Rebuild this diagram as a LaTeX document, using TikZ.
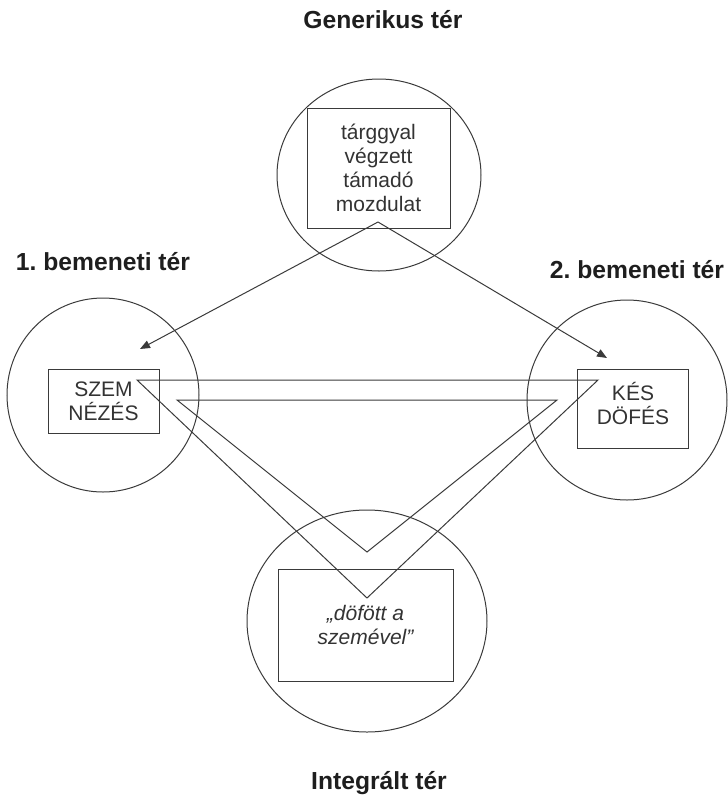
\documentclass[tikz,border=0pt]{standalone}
\usepackage{fontspec}
\setmainfont{Liberation Sans}
\usetikzlibrary{shapes.geometric,arrows.meta}
\definecolor{linec}{HTML}{3A3A3A}
\definecolor{textc}{HTML}{1E1E1E}
\definecolor{boxtextc}{HTML}{333333}
\frenchspacing
\begin{document}
\begin{tikzpicture}[x=0.75pt,y=-0.75pt,
  ln/.style={draw=linec,line width=0.75pt},
  space/.style={ln,ellipse,inner sep=0pt},
  box/.style={ln,rectangle,inner sep=0pt,align=center,text=boxtextc,
    font=\fontsize{15.75pt}{18pt}\selectfont},
  lbl/.style={text=boxtextc,inner sep=0pt,align=center,
    font=\fontsize{15.75pt}{18pt}\selectfont},
  title/.style={text=textc,inner sep=0pt,font=\fontsize{18.5pt}{22pt}\selectfont\bfseries},
  arr/.style={ln,-{Triangle[length=7.5pt,width=6pt]}}]
\useasboundingbox (0,0) rectangle (728,797);
% titles
\node[title] (tg) at (383,20) {Generikus tér};
\node[title] (t1) at (103,262) {1. bemeneti tér};
\node[title] (t2) at (637,270) {2. bemeneti tér};
\node[title] (ti) at (379,783) {Integrált tér};
% spaces
\node[space,minimum width=153pt,minimum height=144pt] (cg) at (379,175) {};
\node[space,minimum width=144pt,minimum height=145.5pt] (c1) at (103,395) {};
\node[space,minimum width=150pt,minimum height=150pt] (c2) at (627,400) {};
\node[space,minimum width=180pt,minimum height=166.5pt] (ci) at (367,621) {};
% boxes
\node[box,minimum width=107.25pt,minimum height=90pt] (bg) at (378.5,168)
  {tárggyal\\végzett\\támadó\\mozdulat};
\node[box,minimum width=83.25pt,minimum height=48pt] (b1) at (103.5,401)
  {SZEM\\NÉZÉS};
\node[box,minimum width=83.25pt,minimum height=59.25pt] (b2) at (632.5,408.5) {};
\node[lbl] (l2) at (633,403) {KÉS\\DÖFÉS};
\node[box,minimum width=131.25pt,minimum height=84pt,font=\fontsize{15.75pt}{18pt}\selectfont\itshape] (bi) at (365.5,625)
  {„döfött a\\szemével”};
% arrows
\coordinate (ap) at (378,222);
\coordinate (a1) at (140,349);
\coordinate (a2) at (607,358);
\draw[arr] (ap) -- (a1);
\draw[arr] (ap) -- (a2);
% blend wedges
\coordinate (o1) at (137,380);
\coordinate (o2) at (598,380);
\coordinate (o3) at (367,598);
\coordinate (i1) at (177,400);
\coordinate (i2) at (557,400);
\coordinate (i3) at (367,552);
\draw[ln,line join=miter] (o1) -- (o2) -- (o3) -- cycle;
\draw[ln,line join=miter] (i1) -- (i2) -- (i3) -- cycle;
\end{tikzpicture}
\end{document}
